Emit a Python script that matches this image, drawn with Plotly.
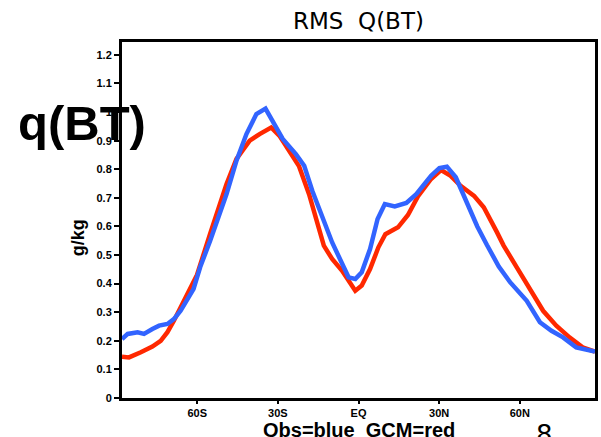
import plotly.graph_objects as go

# GCM (red)
gcm_lat = [-88, -85.4, -81.0, -76.7, -73.6, -71.1, -68.7, -63.8, -60.1, -55.2, -49.1, -45.4,
           -40.5, -36.8, -32.5, -29.4, -25.8, -22.1, -18.4, -14.7, -12.9, -9.8, -6.1, -1.2,
           1.2, 4.3, 7.4, 10.0, 14.7, 18.4, 22.1, 27.0, 30.7, 34.3, 38.0, 43.0, 46.6, 51.5,
           54.0, 58.9, 63.8, 68.7, 73.6, 78.5, 83.4, 88]
gcm_val = [0.144, 0.142, 0.16, 0.18, 0.20, 0.23, 0.27, 0.358, 0.43, 0.575, 0.748, 0.836,
           0.90, 0.923, 0.946, 0.917, 0.865, 0.81, 0.713, 0.60, 0.533, 0.486, 0.445, 0.375,
           0.393, 0.451, 0.527, 0.573, 0.597, 0.64, 0.705, 0.766, 0.797, 0.777, 0.742, 0.707,
           0.667, 0.58, 0.533, 0.457, 0.381, 0.305, 0.253, 0.212, 0.177, 0.162]

# Obs (blue)
obs_lat = [-88, -85.9, -82.2, -79.8, -76.7, -74.2, -71.1, -68.7, -66.2, -61.4, -58.9, -55.2,
           -49.1, -45.4, -41.7, -38.0, -34.6, -31.9, -28.2, -23.3, -20.2, -17.2, -14.7, -9.8,
           -3.7, -1.2, 1.2, 4.3, 7.1, 9.8, 13.5, 17.8, 21.5, 27.0, 30.1, 32.9, 36.2, 39.9,
           44.2, 47.8, 52.2, 56.4, 62.6, 67.5, 71.8, 76.1, 81.0, 88]
obs_val = [0.206, 0.224, 0.23, 0.224, 0.241, 0.253, 0.259, 0.276, 0.305, 0.381, 0.458, 0.55,
           0.713, 0.83, 0.923, 0.993, 1.012, 0.97, 0.906, 0.853, 0.812, 0.725, 0.661, 0.544,
           0.422, 0.416, 0.44, 0.521, 0.626, 0.678, 0.67, 0.682, 0.713, 0.777, 0.804, 0.809,
           0.772, 0.69, 0.60, 0.535, 0.46, 0.405, 0.34, 0.265, 0.235, 0.212, 0.177, 0.162]

x_tickvals = [-60, -30, 0, 30, 60]
x_ticktext = ["60S", "30S", "EQ", "30N", "60N"]
y_tickvals = [0, 0.1, 0.2, 0.3, 0.4, 0.5, 0.6, 0.7, 0.8, 0.9, 1.0, 1.1, 1.2]
y_ticktext = ["0", "0.1", "0.2", "0.3", "0.4", "0.5", "0.6", "0.7", "0.8", "0.9", "1", "1.1", "1.2"]

fig = go.Figure()
fig.add_trace(go.Scatter(x=gcm_lat, y=gcm_val, mode="lines",
                         line=dict(color="rgb(255,40,0)", width=4.5), showlegend=False))
fig.add_trace(go.Scatter(x=obs_lat, y=obs_val, mode="lines",
                         line=dict(color="rgb(50,100,255)", width=4.5), showlegend=False))

tickfont = dict(family="Liberation Sans", size=11, color="black", weight="bold")
fig.update_xaxes(range=[-88, 88], tickvals=x_tickvals, ticktext=x_ticktext,
                 showgrid=False, zeroline=False, showline=True, mirror=True,
                 linecolor="black", linewidth=3, ticks="outside", ticklen=3,
                 tickwidth=2, tickcolor="black", tickfont=tickfont)
fig.update_yaxes(range=[0, 1.245], tickvals=y_tickvals, ticktext=y_ticktext,
                 showgrid=False, zeroline=False, showline=True, mirror=True,
                 linecolor="black", linewidth=3, ticks="outside", ticklen=5,
                 tickwidth=2, tickcolor="black", tickfont=tickfont)

fig.update_layout(
    width=601, height=437,
    margin=dict(l=122, r=3, t=42, b=39),
    paper_bgcolor="white", plot_bgcolor="white",
    annotations=[
        dict(text="RMS  Q(BT)", x=(360 - 122) / 476, y=(398 - 21) / 356, xref="paper", yref="paper",
             showarrow=False, xanchor="center", yanchor="middle",
             font=dict(family="DejaVu Sans", size=23, color="black")),
        dict(text="q(BT)", x=(82 - 122) / 476, y=(398 - 123) / 356, xref="paper", yref="paper",
             showarrow=False, xanchor="center", yanchor="middle",
             font=dict(family="Liberation Sans", size=49, color="black", weight="bold")),
        dict(text="g/kg", x=(78 - 122) / 476, y=(398 - 238) / 356, xref="paper", yref="paper",
             showarrow=False, xanchor="center", yanchor="middle", textangle=-90,
             font=dict(family="Liberation Sans", size=18, color="black", weight="bold")),
        dict(text="Obs=blue  GCM=red", x=(361 - 122) / 476, y=(398 - 430) / 356,
             xref="paper", yref="paper", showarrow=False, xanchor="center", yanchor="middle",
             font=dict(family="Liberation Sans", size=20, color="black", weight="bold")),
        dict(text="8", x=(547 - 122) / 476, y=(398 - 418) / 356, xref="paper", yref="paper",
             showarrow=False, xanchor="center", yanchor="top",
             font=dict(family="DejaVu Sans", size=26, color="black")),
    ],
)

fig.write_html("out.html")
